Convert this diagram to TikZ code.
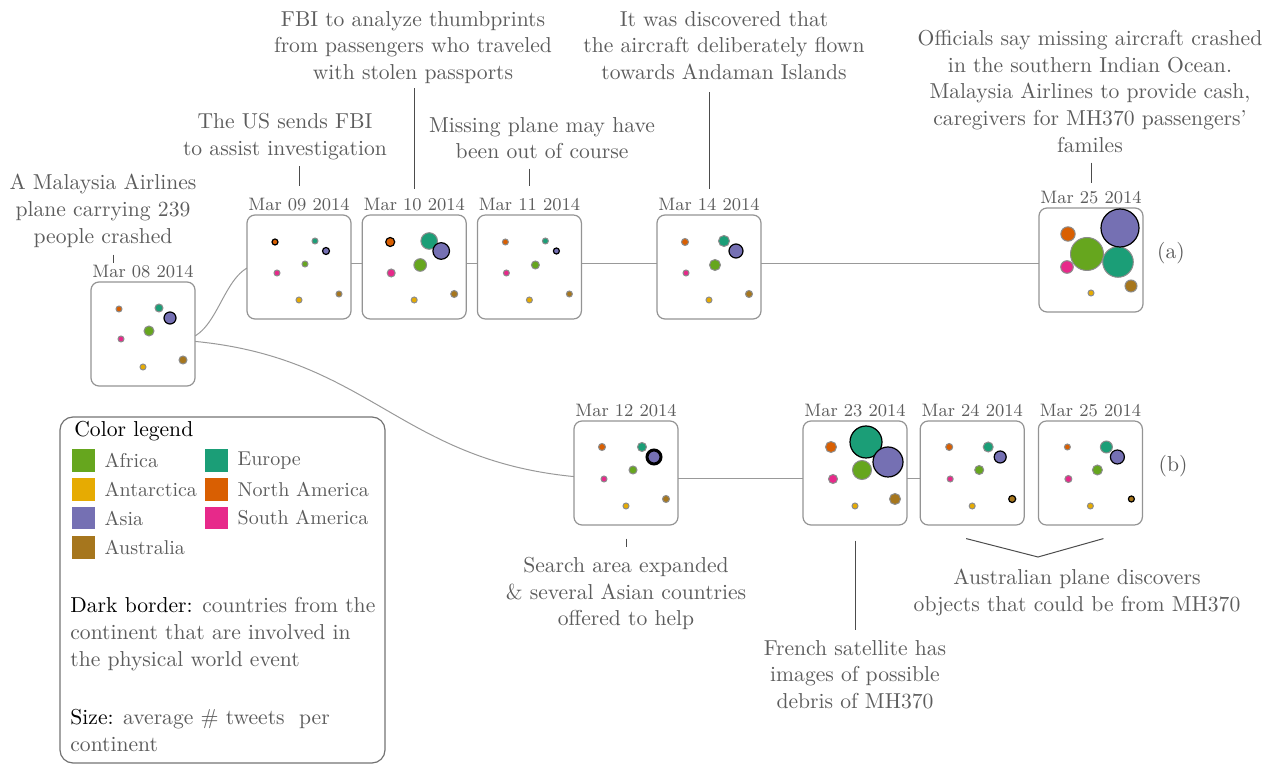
\documentclass[tikz,border=0pt]{standalone}
\usepackage{tikz}
\usetikzlibrary{positioning, backgrounds}
\definecolor{af}{HTML}{66A61E}
\definecolor{an}{HTML}{E6AB02}
\definecolor{as}{HTML}{7570B3}
\definecolor{au}{HTML}{A6761D}
\definecolor{eu}{HTML}{1B9E77}
\definecolor{na}{HTML}{D95F02}
\definecolor{sa}{HTML}{E7298A}
\definecolor{txtgray}{HTML}{5C5C5C}

\begin{document}
\begin{tikzpicture}[x=0.5pt, y=-0.5pt,
  day/.style={rectangle, rounded corners=4pt, draw=black!42, fill=white, line width=0.6pt, minimum width=52pt, minimum height=52pt, inner sep=0pt},
  date/.style={font=\small, text=txtgray, inner sep=0pt, anchor=base},
  note/.style={align=center, text=txtgray, inner sep=0pt, anchor=north, font=\fontsize{10.8}{13.3}\selectfont},
  bub/.style={circle, inner sep=0pt, draw=black!45, line width=0.5pt},
  plain/.style={},
  hit/.style={draw=black, line width=0.6pt},
  hitbold/.style={draw=black, line width=1.5pt},
  link/.style={draw=black!40, line width=0.5pt},
  tick/.style={draw=black!70, line width=0.5pt},
  swatch/.style={rectangle, minimum size=11.4pt, inner sep=0pt},
  key/.style={text=txtgray, inner sep=0pt, font=\fontsize{10}{12}\selectfont},
  keytext/.style={anchor=north west, align=left, text=txtgray, inner sep=0pt, font=\fontsize{10.8}{13.5}\selectfont},
]
  \useasboundingbox (0,0) rectangle (1271,764);

  % day boxes
  \node[day] (b08) at (143,334) {};
  \node[day] (b09) at (299,267) {};
  \node[day, right=5pt of b09] (b10) {};
  \node[day, right=5pt of b10] (b11) {};
  \node[day] (b14) at (709,267) {};
  \node[day] (b25a) at (1091,260) {};
  \node[day] (b12) at (626,473) {};
  \node[day] (b23) at (855,473) {};
  \node[day, right=6pt of b23] (b24) {};
  \node[day, right=6.5pt of b24] (b25b) {};

  \node[date] (d08) at ([yshift=2pt]b08.north) {Mar 08 2014};
  \node[date] (d09) at ([yshift=2pt]b09.north) {Mar 09 2014};
  \node[date] (d10) at ([yshift=2pt]b10.north) {Mar 10 2014};
  \node[date] (d11) at ([yshift=2pt]b11.north) {Mar 11 2014};
  \node[date] (d14) at ([yshift=2pt]b14.north) {Mar 14 2014};
  \node[date] (d25a) at ([yshift=2pt]b25a.north) {Mar 25 2014};
  \node[date] (d12) at ([yshift=2pt]b12.north) {Mar 12 2014};
  \node[date] (d23) at ([yshift=2pt]b23.north) {Mar 23 2014};
  \node[date] (d24) at ([yshift=2pt]b24.north) {Mar 24 2014};
  \node[date] (d25b) at ([yshift=2pt]b25b.north) {Mar 25 2014};

  % continent bubbles
  \foreach \col/\dx/\dy/\sz/\st in {na/-24/-25/3/plain, eu/16/-26/4/plain, as/27/-16/6/hit, af/6/-3/5/plain, sa/-22/5/3/plain, an/0/33/3/plain, au/40/26/4/plain}
    \node[bub, \st, fill=\col, minimum size=\sz pt] (b08-\col) at ([shift={(\dx,\dy)}]b08.center) {};
  \foreach \col/\dx/\dy/\sz/\st in {na/-24/-25/3/hit, eu/16/-26/3/plain, as/27/-16/3.5/hit, af/6/-3/3/plain, sa/-22/6/3/plain, an/0/33/3/plain, au/40/27/3/plain}
    \node[bub, \st, fill=\col, minimum size=\sz pt] (b09-\col) at ([shift={(\dx,\dy)}]b09.center) {};
  \foreach \col/\dx/\dy/\sz/\st in {na/-24/-25/4.5/hit, eu/15/-26/8.3/plain, as/27/-16/8.3/hit, af/6/-2/6.3/plain, sa/-23/6/4/plain, an/0/33/3/plain, au/40/27/3.5/plain}
    \node[bub, \st, fill=\col, minimum size=\sz pt] (b10-\col) at ([shift={(\dx,\dy)}]b10.center) {};
  \foreach \col/\dx/\dy/\sz/\st in {na/-24/-25/3/plain, eu/16/-26/3/plain, as/27/-16/3/hit, af/6/-2/4/plain, sa/-23/6/3/plain, an/0/33/3/plain, au/40/27/3/plain}
    \node[bub, \st, fill=\col, minimum size=\sz pt] (b11-\col) at ([shift={(\dx,\dy)}]b11.center) {};
  \foreach \col/\dx/\dy/\sz/\st in {na/-24/-25/3.5/plain, eu/15/-26/5.5/plain, as/27/-16/7/hit, af/6/-2/5.5/plain, sa/-23/6/3/plain, an/0/33/3/plain, au/40/27/3.5/plain}
    \node[bub, \st, fill=\col, minimum size=\sz pt] (b14-\col) at ([shift={(\dx,\dy)}]b14.center) {};
  \foreach \col/\dx/\dy/\sz/\st in {na/-23/-26/7.2/plain, sa/-24/7/6.3/plain, af/-4/-6/16.5/plain, eu/27/2/15.3/plain, as/29/-32/19/hit, an/0/33/3/plain, au/40/26/6/plain}
    \node[bub, \st, fill=\col, minimum size=\sz pt] (b25a-\col) at ([shift={(\dx,\dy)}]b25a.center) {};
  \foreach \col/\dx/\dy/\sz/\st in {na/-24/-26/3.5/plain, eu/16/-26/4.5/plain, as/28/-16/7/hitbold, af/7/-3/4/plain, sa/-22/6/3/plain, an/0/33/3/plain, au/40/26/3.5/plain}
    \node[bub, \st, fill=\col, minimum size=\sz pt] (b12-\col) at ([shift={(\dx,\dy)}]b12.center) {};
  \foreach \col/\dx/\dy/\sz/\st in {na/-24/-26/5.5/plain, eu/11/-31/16/hit, as/33/-11/15/hit, af/7/-3/9.5/plain, sa/-22/6/4.5/plain, an/0/33/3/plain, au/40/26/5.5/plain}
    \node[bub, \st, fill=\col, minimum size=\sz pt] (b23-\col) at ([shift={(\dx,\dy)}]b23.center) {};
  \foreach \col/\dx/\dy/\sz/\st in {na/-23/-26/3.5/plain, eu/16/-26/5/plain, as/28/-16/6/hit, af/7/-3/4.5/plain, sa/-22/6/3/plain, an/0/33/3/plain, au/40/26/3.5/hit}
    \node[bub, \st, fill=\col, minimum size=\sz pt] (b24-\col) at ([shift={(\dx,\dy)}]b24.center) {};
  \foreach \col/\dx/\dy/\sz/\st in {na/-23/-26/3/plain, eu/16/-26/6/plain, as/27/-16/7/hit, af/7/-3/5/plain, sa/-22/6/3.5/plain, an/0/33/3/plain, au/41/26/3/hit}
    \node[bub, \st, fill=\col, minimum size=\sz pt] (b25b-\col) at ([shift={(\dx,\dy)}]b25b.center) {};

  % links behind the boxes
  \begin{scope}[on background layer]
    \draw[link] ([shift={(37,6)}]b08.center) .. controls +(41,0) and +(-41,0) .. ([shift={(-37,-3)}]b09.center);
    \draw[link] ([yshift=-2.5pt]b08.center) .. controls +(241,0) and +(-241,0) .. ([yshift=-3pt]b12.center);
    \draw[link] ([yshift=1.5pt]b09.center) -- ([yshift=1.5pt]b10.center);
    \draw[link] ([yshift=1.5pt]b10.center) -- ([yshift=1.5pt]b11.center);
    \draw[link] ([yshift=1.5pt]b11.center) -- ([yshift=1.5pt]b14.center);
    \draw[link] ([yshift=1.5pt]b14.center) -- ([yshift=1.5pt]b14.center -| b25a.center);
    \draw[link] ([yshift=-3pt]b12.center) -- ([yshift=-3pt]b23.center);
    \draw[link] ([yshift=-3pt]b23.center) -- ([yshift=-3pt]b24.center);
  \end{scope}

  % event notes
  \node[note] (t08) at (103,174) {A Malaysia Airlines\\plane carrying 239\\people crashed};
  \node[note] (t09) at (285,113) {The US sends FBI\\to assist investigation};
  \node[note] (t10) at (413,11) {FBI to analyze thumbprints\\from passengers who traveled\\with stolen passports};
  \node[note] (t11) at (542,117) {Missing plane may have\\been out of course};
  \node[note] (t14) at (724,11) {It was discovered that\\the aircraft deliberately flown\\towards Andaman Islands};
  \node[note] (t25) at (1090,30) {Officials say missing aircraft crashed\\in the southern Indian Ocean.\\Malaysia Airlines to provide cash,\\caregivers for MH370 passengers'\\familes};
  \node[note] (t12) at (626,557) {Search area expanded\\\& several Asian countries\\offered to help};
  \node[note] (t23) at (855,640) {French satellite has\\images of possible\\debris of MH370};
  \node[note] (t24) at (1077,569) {Australian plane discovers\\objects that could be from MH370};
  \node[note, anchor=center] (la) at (1171,253) {(a)};
  \node[note, anchor=center] (lb) at (1173,466) {(b)};

  \draw[tick] ([shift={(10,7)}]t08.south) -- ([shift={(-30,-2)}]d08.north);
  \draw[tick] ([shift={(0,6)}]t09.south -| b09) -- ([shift={(0,-12)}]d09.north);
  \draw[tick] ([shift={(0,4)}]t10.south -| b10) -- ([shift={(0,-9)}]d10.north);
  \draw[tick] ([shift={(0,9)}]t11.south -| b11) -- ([shift={(0,-12)}]d11.north);
  \draw[tick] ([shift={(0,12)}]t14.south -| b14) -- ([shift={(0,-9)}]d14.north);
  \draw[tick] ([shift={(0,10)}]t25.south -| b25a) -- ([shift={(0,-8)}]d25a.north);
  \draw[tick] ([shift={(0,13)}]b12.south) -- ([shift={(0,-10)}]t12.north);
  \draw[tick] ([shift={(0,15)}]b23.south) -- ([shift={(0,-10)}]t23.north);
  \draw[tick] ([shift={(-6,13)}]b24.south) -- ([shift={(-39,-12)}]t24.north) -- ([shift={(13,13)}]b25b.south);

  % legend
  \node[draw=black!55, line width=0.6pt, rounded corners=6.5pt, minimum width=162.5pt, minimum height=173pt, inner sep=0pt] (legend) at (222.5,590) {};
  \node[anchor=base west, inner sep=0pt, font=\fontsize{10.8}{13.5}\selectfont] (lgtitle) at (74,437) {Color legend};
  \foreach \col/\name/\x/\y in {af/Africa/83.5/460.5, an/Antarctica/83.5/489.5, as/Asia/83.5/518, au/Australia/83.5/547.5, eu/Europe/216.5/460.5, na/North America/216.5/489.5, sa/South America/216.5/518} {
    \node[swatch, fill=\col] (k-\col) at (\x,\y) {};
    \node[key, right=4.5pt of k-\col] (kl-\col) {\name};
  }
  \node[keytext] (dark) at (70,597) {\textcolor{black}{Dark border:} countries from the\\continent that are involved in\\the physical world event};
  \node[keytext] (size) at (70,709) {\textcolor{black}{Size:} average \# tweets\ \ per\\continent};
\end{tikzpicture}
\end{document}
